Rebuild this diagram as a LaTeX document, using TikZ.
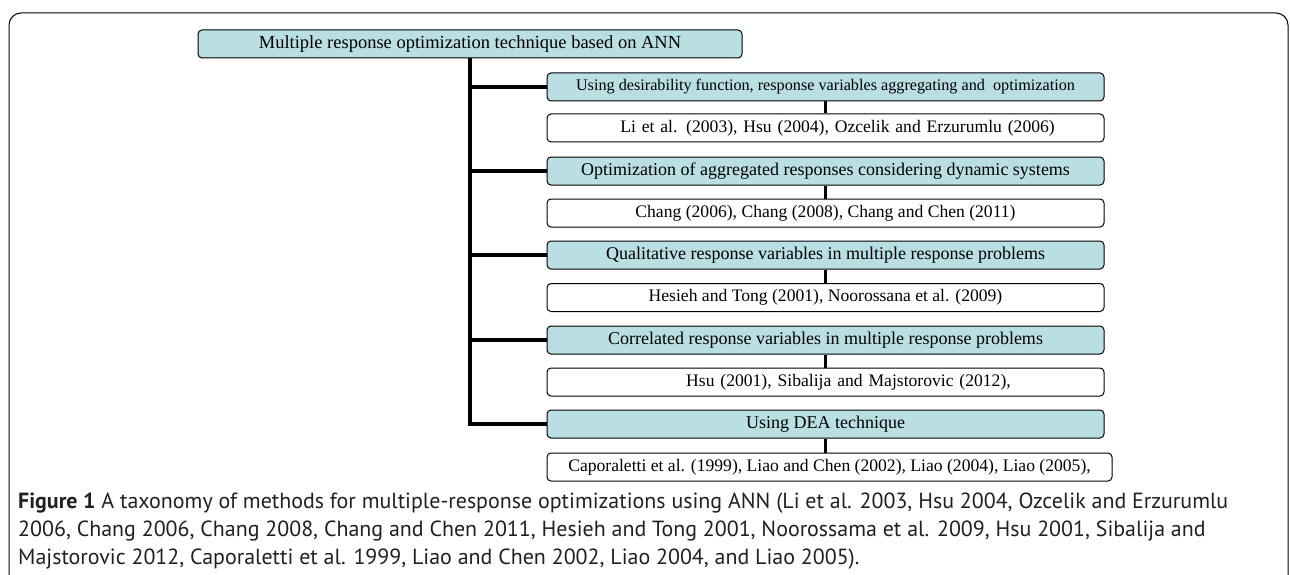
\documentclass[tikz,border=0pt]{standalone}
\usepackage{fontspec}
\setmainfont{Liberation Serif}
\newfontfamily\capfont{PT Sans}
\definecolor{boxblue}{HTML}{B9DFE2}
\definecolor{captxt}{HTML}{231F20}
\begin{document}
\begin{tikzpicture}[x=1pt,y=-1pt,
  catbox/.style={draw=black,line width=1pt,rounded corners=4pt,fill=boxblue,minimum width=557pt,minimum height=28pt,inner sep=0pt,font=\fontsize{18}{19}\selectfont},
  citebox/.style={draw=black,line width=1pt,rounded corners=4pt,fill=white,minimum width=557pt,minimum height=28pt,inner sep=0pt,font=\fontsize{17.6}{19}\selectfont},
  trunk/.style={line width=4pt},
  twig/.style={line width=3pt},
  captxt/.style={anchor=west,inner sep=0pt,text=captxt}]
\useasboundingbox (0,0) rectangle (1290,575);
% outer frame (open at the bottom)
\draw[line width=1pt,rounded corners=12pt] (9,575) -- (9,13) -- (1288,13) -- (1288,575);
% top node
\node[catbox,minimum width=544pt,font=\fontsize{18.5}{20}\selectfont] (top) at (470,44) {Multiple response optimization technique based on ANN};
% categories and citations
\node[catbox,font=\fontsize{16.2}{18}\selectfont] (c1) at (825.5,87) {Using desirability function, response variables aggregating and\ \ optimization};
\node[citebox,text width=557pt,align=center] (r1) at (825.5,128) {\hspace*{24pt}Li et al. (2003), Hsu (2004), Ozcelik and Erzurumlu (2006)};
\node[catbox] (c2) at (825.5,171) {Optimization of aggregated responses considering dynamic systems};
\node[citebox] (r2) at (825.5,213) {Chang (2006), Chang (2008), Chang and Chen (2011)};
\node[catbox] (c3) at (825.5,255) {Qualitative response variables in multiple response problems};
\node[citebox] (r3) at (825.5,297.5) {Hesieh and Tong (2001), Noorossana et al. (2009)};
\node[catbox] (c4) at (825.5,340) {Correlated response variables in multiple response problems};
\node[citebox,text width=557pt,align=center] (r4) at (825.5,382) {\hspace*{46pt}Hsu (2001), Sibalija and Majstorovic (2012),};
\node[catbox] (c5) at (825.5,424) {Using DEA technique};
\node[citebox,minimum width=565pt] (r5) at (829.5,467) {Caporaletti et al. (1999), Liao and Chen (2002), Liao (2004), Liao (2005),};
% connectors
\draw[trunk] (top.south) |- (c5.west);
\foreach \c in {c1,c2,c3,c4}{\draw[trunk] (top.south |- \c.west) -- (\c.west);}
\draw[twig] (c1.south) -- (r1.north);
\draw[twig] (c2.south) -- (r2.north);
\draw[twig] (c3.south) -- (r3.north);
\draw[twig] (c4.south) -- (r4.north);
\draw[twig] (c5.south) -- (c5.south |- r5.north);
% caption
\node[captxt] (cap) at (18,531) {\resizebox{1210pt}{!}{\capfont\fontsize{17.5}{22.4}\selectfont
  \begin{tabular}{@{}l@{}}
  \textbf{Figure 1} A taxonomy of methods for multiple-response optimizations using ANN (Li et al. 2003, Hsu 2004, Ozcelik and Erzurumlu\\
  2006, Chang 2006, Chang 2008, Chang and Chen 2011, Hesieh and Tong 2001, Noorossama et al. 2009, Hsu 2001, Sibalija and\\
  Majstorovic 2012, Caporaletti et al. 1999, Liao and Chen 2002, Liao 2004, and Liao 2005).
  \end{tabular}}};
\end{tikzpicture}
\end{document}
